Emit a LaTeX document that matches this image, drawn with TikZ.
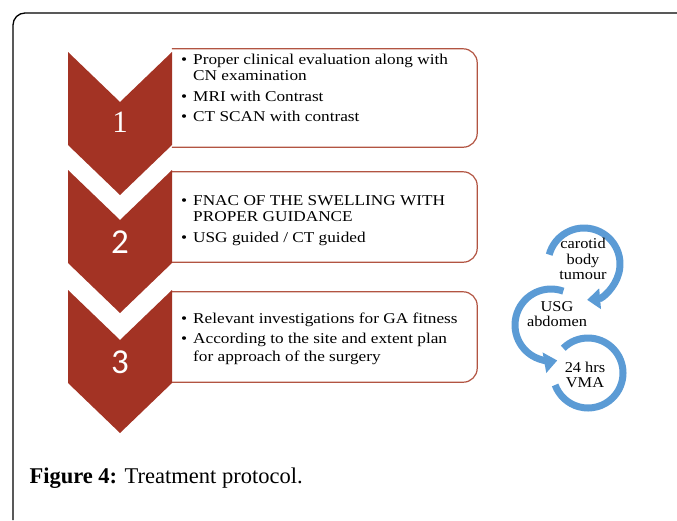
\documentclass[tikz,border=0pt]{standalone}
\usepackage{fontspec}
\setmainfont{Liberation Serif}
\newfontfamily\numfont{Carlito}
\newfontfamily\boxfont[FakeStretch=1.15]{Liberation Serif}
\newfontfamily\loopfont[FakeStretch=1.09]{Liberation Serif}
\usetikzlibrary{arrows.meta}
\definecolor{chevred}{RGB}{163,51,36}
\definecolor{boxline}{RGB}{178,84,66}
\definecolor{loopblue}{RGB}{91,155,213}
\newcommand{\itm}[1]{\makebox[12pt][l]{\textbullet}#1}
\tikzset{
  chev/.style={fill=chevred},
  stepbox/.style={minimum width=305pt, inner sep=0pt},
  stepline/.style={draw=boxline, line width=1.2pt, rounded corners=14pt},
  steptext/.style={anchor=base west, inner sep=0pt, font=\boxfont\fontsize{15}{16.5}\selectfont},
  stepnum/.style={text=white, inner sep=0pt},
  loopline/.style={draw=loopblue, line width=7pt},
  looptip/.style={-{Triangle[width=20pt,length=13pt]}},
  looptext/.style={align=center, font=\loopfont\fontsize{15}{15.5}\selectfont, inner sep=0pt}
}
\begin{document}
\begin{tikzpicture}[x=1pt,y=-1pt]
\useasboundingbox (0,0) rectangle (677,520);
\draw[line width=1.3pt, rounded corners=12pt] (677,13) -- (13,13) -- (13,520);

% boxes, left side hidden by the chevrons
\node[stepbox, minimum height=98pt] (box1) at (324.5,98) {};
\node[stepbox, minimum height=90pt] (box2) at (324.5,217) {};
\node[stepbox, minimum height=90pt] (box3) at (324.5,337) {};
\foreach \b in {box1,box2,box3}
  \draw[stepline] (\b.north west) -- (\b.north east) -- (\b.south east) -- (\b.south west);

\foreach \t in {52,170,290}
  \fill[chev] (68,\t) -- (120,\t+50) -- (172,\t) -- (172,\t+93) -- (120,\t+143) -- (68,\t+93) -- cycle;

\node[stepnum, font=\fontsize{31}{31}\selectfont] (num1) at (120,122) {1};
\node[stepnum, font=\numfont\fontsize{35}{35}\selectfont] (num2) at (120,242) {2};
\node[stepnum, font=\numfont\fontsize{35}{35}\selectfont] (num3) at (120,362) {3};

% bullet lines, one node per line
\node[steptext] (eval) at (181,64) {\itm{Proper clinical evaluation along with}};
\node[steptext] (evalb) at (193,80.7) {CN examination};
\node[steptext] (mri) at (181,101.7) {\itm{MRI with Contrast}};
\node[steptext] (ct) at (181,121.7) {\itm{CT SCAN with contrast}};

\node[steptext] (fnac) at (181,205) {\itm{FNAC OF THE SWELLING WITH}};
\node[steptext] (fnacb) at (193,221) {PROPER GUIDANCE};
\node[steptext] (usgct) at (181,242) {\itm{USG guided / CT guided}};

\node[steptext] (ga) at (181,323) {\itm{Relevant investigations for GA fitness}};
\node[steptext] (plan) at (181,343) {\itm{According to the site and extent plan}};
\node[steptext] (planb) at (193,361) {for approach of the surgery};

% circular arrows
\draw[loopline, looptip] (584,264) ++(-165:36) arc[start angle=-165, end angle=85, radius=36];
\draw[loopline, looptip] (551,325) ++(-70:36) arc[start angle=-70, end angle=-280, radius=36];
\draw[loopline] (588,373) ++(-135:35) arc[start angle=-135, end angle=160, radius=35];

\node[looptext] (tumour) at (583,259) {carotid\\body\\tumour};
\node[looptext] (usg) at (557,314) {USG\\abdomen};
\node[looptext] (vma) at (585,375) {24 hrs\\VMA};

\node[anchor=base west, font=\fontsize{22.5}{22.5}\selectfont] (caption) at (26,483) {\textbf{Figure 4:} Treatment protocol.};
\end{tikzpicture}
\end{document}
